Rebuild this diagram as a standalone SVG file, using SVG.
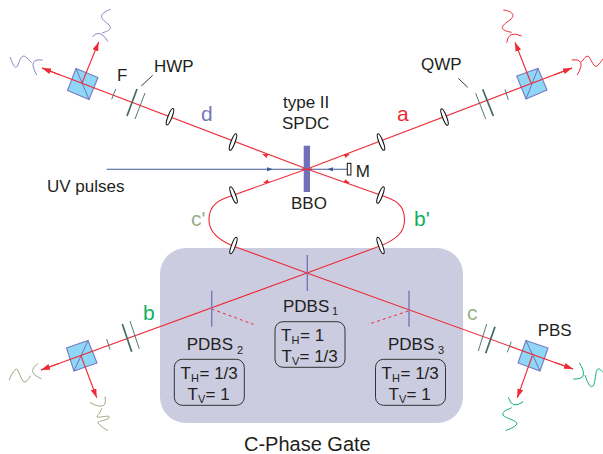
<svg xmlns="http://www.w3.org/2000/svg" width="603" height="454" viewBox="0 0 603 454">
<style>
text{font-family:"Liberation Sans",Arial,sans-serif;font-size:17px;fill:#231f20}
.big{font-size:21px}
.sub{font-size:11px}
.beam{fill:none;stroke:#ee2a35;stroke-width:1.1}
.ray{fill:none;stroke:#ee2a35;stroke-width:1.1;marker-end:url(#ah)}
.mid{fill:none;stroke:none;marker-end:url(#sm)}
.uv{fill:none;stroke:#3f5a96;stroke-width:1.1}
.cube{fill:#8fd6f7;stroke:#7a7ac0;stroke-width:1.1}
.diag{fill:none;stroke:#6a6ab0;stroke-width:.9}
.lens{fill:#fff;stroke:#111;stroke-width:1.1}
.wp{stroke:#3f6b66;stroke-width:.9}
.wpt{stroke:#3f6b66;stroke-width:1.7}
.lead{stroke:#231f20;stroke-width:.9}
.pd{stroke:#7777bb;stroke-width:1.4}
.dash{stroke:#ee2a35;stroke-width:1;stroke-dasharray:3 3}
.box{fill:none;stroke:#333;stroke-width:1}
.w{fill:none;stroke-width:1}
</style>
<defs>
<marker id="ah" markerUnits="userSpaceOnUse" markerWidth="10" markerHeight="8" refX="9" refY="3" orient="auto"><path d="M0,0L9,3L0,6z" fill="#ee2a35"/></marker>
<marker id="sm" markerUnits="userSpaceOnUse" markerWidth="7" markerHeight="6" refX="6" refY="2" orient="auto"><path d="M0,0L6,2L0,4z" fill="#ee2a35"/></marker>
<marker id="su" markerUnits="userSpaceOnUse" markerWidth="7" markerHeight="6" refX="5" refY="2" orient="auto"><path d="M0,0L6,2L0,4z" fill="#3f5a96"/></marker>
</defs>
<rect id="gate" x="160" y="248" width="303" height="175" rx="26" fill="#cccce0"/>
<g id="cubes">
<path class="cube" d="M76,68.500L98,77.500L89,99.500L67.500,90.500z"/>
<path class="diag" d="M76,68.500L89,99.500"/>
<path class="cube" d="M516.700,76L538,68.500L547,90L526,99z"/>
<path class="diag" d="M538,68.500L526,99"/>
<path class="cube" d="M66.500,348L88,340.500L97,363L74,371z"/>
<path class="diag" d="M88,340.500L74,371"/>
<path class="cube" d="M526,340.500L548,348L540,371L518,363z"/>
<path class="diag" d="M526,340.500L540,371"/>
</g>
<g id="connectors">
<path class="beam" d="M307,169L42,68"/><path class="ray" d="M60,75L42,68"/>
<path class="beam" d="M307,169L572,68"/><path class="ray" d="M554,75L572,68"/>
<path class="beam" d="M307,169L228,197C213,202 209,210 209,220C209,231 216,239 233,246L307,273L41,370"/><path class="ray" d="M59,363.500L41,370"/>
<path class="beam" d="M307,169L386,197C401,202 404.500,210 404.500,220C404.500,231 398,239 380,246L307,273L573,369"/><path class="ray" d="M555,362.500L573,369"/>
<path class="ray" d="M82,83L98.700,42"/>
<path class="ray" d="M531,83L515,42.300"/>
<path class="ray" d="M81,355.700L96.700,397.700"/>
<path class="ray" d="M532.300,355.700L517.300,397.700"/>
<path class="mid" d="M272,158L262,154"/>
<path class="mid" d="M340,158L350,154"/>
<path class="mid" d="M273,179.500L263,183"/>
<path class="mid" d="M340,179.500L350,183"/>
<path class="uv" style="marker-mid:url(#su)" d="M106.700,169.300L272,169.300L307,169.300"/>
<path class="uv" style="marker-mid:url(#su)" d="M347,169.300L328,169.300L307,169.300"/>
<path class="dash" d="M211.700,309L253.300,324.300"/>
<path class="dash" d="M408.300,311L368.300,324.300"/>
<path class="lead" d="M152.700,75.300L141.300,86"/>
<path class="lead" d="M458.300,78.300L467.700,87.300"/>
</g>
<g id="crystal">
<rect x="303.700" y="145.700" width="6.300" height="46.300" fill="#7070b8"/>
<path d="M302,169.300L312,169.300" stroke="#ee2a35" stroke-width="1.600"/>
<rect x="347.300" y="163.300" width="3.600" height="11.700" fill="#fff" stroke="#111" stroke-width="1"/>
</g>
<g id="lenses">
<ellipse class="lens" cx="170" cy="116.700" rx="2" ry="8.800" transform="rotate(21 170 116.700)"/>
<ellipse class="lens" cx="233" cy="142" rx="2" ry="8.800" transform="rotate(21 233 142)"/>
<ellipse class="lens" cx="444.500" cy="117" rx="2" ry="8.800" transform="rotate(-21 444.500 117)"/>
<ellipse class="lens" cx="381" cy="142" rx="2" ry="8.800" transform="rotate(-21 381 142)"/>
<ellipse class="lens" cx="233.500" cy="195" rx="2" ry="8.800" transform="rotate(-21 233.500 195)"/>
<ellipse class="lens" cx="380.500" cy="195" rx="2" ry="8.800" transform="rotate(21 380.500 195)"/>
<ellipse class="lens" cx="233.500" cy="245.500" rx="2" ry="8.800" transform="rotate(20 233.500 245.500)"/>
<ellipse class="lens" cx="380.500" cy="245.500" rx="2" ry="8.800" transform="rotate(-20 380.500 245.500)"/>
</g>
<g id="plates">
<path class="wpt" d="M137,89L127,116"/><path class="wp" d="M145,93L135,119"/><path class="wp" d="M115.700,89L111.700,99.300"/>
<path class="wp" d="M475.700,93.300L485.700,119"/><path class="wpt" d="M482.700,89.300L493.300,116"/><path class="wp" d="M505,89.300L508.300,100"/>
<path class="wpt" d="M122.300,324L131.700,351.700"/><path class="wp" d="M130,321L139.300,349"/><path class="wp" d="M106.700,339L110,349.700"/>
<path class="wp" d="M486.700,324L478.300,351"/><path class="wpt" d="M495,326.700L485.700,353.300"/><path class="wp" d="M511.300,341.700L507.300,352.300"/>
</g>
<g id="detectors">
<g class="w" stroke="#8888c8"><path d="M92.300,36.700Q100,28 108,41.700"/><path d="M110.700,9.300C98,14 100,18 108,24C114,29 108,31 102,33"/><path d="M42.700,60Q27,58 36.700,75"/><path d="M10,57C13,64 15,71 18,65C21,56 23,54 27,58C30,61 31,62 32,63"/></g>
<g class="w" stroke="#ee2a35"><path d="M506.700,42.700Q508,30 521.700,36"/><path d="M503.300,10C512,11 516,15 510,20C501,26 498,30 511.700,32.300"/><path d="M571.700,60Q587,58 577.300,75"/><path d="M581,62C584,60 586,54 589,57C592,61 594,68 597,66C600,64 601,61 603,59"/></g>
<g class="w" stroke="#a0a880"><path d="M38.300,363.300Q25,372 41.700,379"/><path d="M30.700,375.700C28,379 26,384 23,381C20,377 18,368 16,369C13,371 11,376 9,380"/><path d="M90,402.700Q108,412 105,396.700"/><path d="M101.700,408.300C100,414 97,415 97,417C101,418 111,414 109,418C105,421 97,421 98,423C100,426 105,429 108,430.700"/></g>
<g class="w" stroke="#10b070"><path d="M573.300,379Q590,380 579.300,362.700"/><path d="M585,375C587,381 590,389 593,386C596,382 595,370 598,369C600,368 601,371 603,372"/><path d="M508.300,397.300Q511.700,410 523.300,401.700"/><path d="M511.700,407.700C507,410 502,411 503,415C506,419 517,420 517,424C514,428 509,429 505.700,430.700"/></g>
</g>
<g id="pdbs1"><path class="pd" d="M307.300,255V291"/><text x="283" y="312">PDBS<tspan class="sub" x="332" dy="3">1</tspan></text><rect class="box" x="275" y="321.700" width="70" height="45.600" rx="8"/>
<text x="281" y="341">T<tspan class="sub" x="291.500" dy="3">H</tspan><tspan x="300" dy="-3">= 1</tspan></text><text x="281.500" y="362">T<tspan class="sub" x="292" dy="3">V</tspan><tspan x="299.500" dy="-3">= 1/3</tspan></text></g>
<g id="pdbs2"><path class="pd" d="M211.700,290.700V326.700"/><text x="186.700" y="350">PDBS<tspan class="sub" x="237" dy="4">2</tspan></text><rect class="box" x="174.300" y="359.300" width="70" height="46" rx="8"/>
<text x="180.500" y="379">T<tspan class="sub" x="191" dy="3">H</tspan><tspan x="199.500" dy="-3">= 1/3</tspan></text><text x="187.500" y="400">T<tspan class="sub" x="198" dy="3">V</tspan><tspan x="205.500" dy="-3">= 1</tspan></text></g>
<g id="pdbs3"><path class="pd" d="M409,290.700V326.700"/><text x="388" y="350">PDBS<tspan class="sub" x="438" dy="4">3</tspan></text><rect class="box" x="375.500" y="359.300" width="70" height="46" rx="8"/>
<text x="381.500" y="379">T<tspan class="sub" x="392" dy="3">H</tspan><tspan x="400.500" dy="-3">= 1/3</tspan></text><text x="388.500" y="400">T<tspan class="sub" x="399" dy="3">V</tspan><tspan x="406.500" dy="-3">= 1</tspan></text></g>
<g id="labels">
<text x="283" y="108">type II</text>
<text x="282" y="129">SPDC</text>
<text x="291" y="209">BBO</text>
<text x="355.700" y="177">M</text>
<text x="117" y="81">F</text>
<text x="154" y="72">HWP</text>
<text x="421" y="70">QWP</text>
<text x="537.700" y="336">PBS</text>
<text x="47" y="192">UV pulses</text>
<text x="244" y="451" style="font-size:20px">C-Phase Gate</text>
<text class="big" x="397" y="121" style="fill:#ee2a35">a</text>
<text class="big" x="201" y="121" style="fill:#7777bb">d</text>
<text class="big" x="191" y="226" style="fill:#9aaf8c">c'</text>
<text class="big" x="414" y="226" style="fill:#10b060">b'</text>
<text class="big" x="143" y="320" style="fill:#10b060">b</text>
<text class="big" x="467" y="320" style="fill:#9aaf8c">c</text>
</g>
</svg>
